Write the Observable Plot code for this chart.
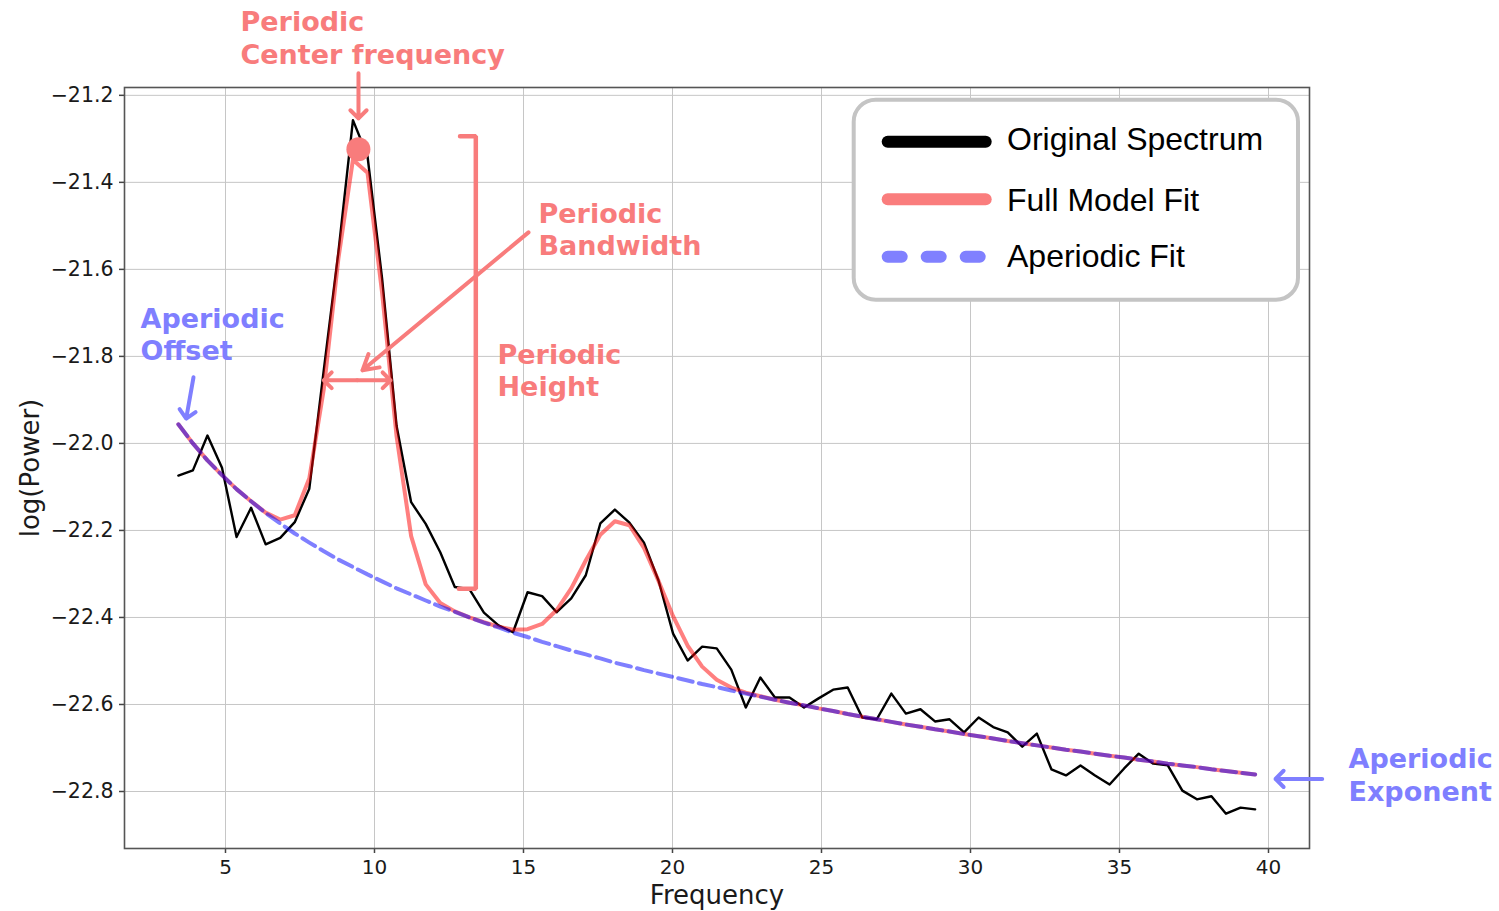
<!DOCTYPE html>
<html><head><meta charset="utf-8">
<script src="https://cdn.jsdelivr.net/npm/d3@7"></script>
<script src="https://cdn.jsdelivr.net/npm/@observablehq/plot@0.6"></script>
<style>
html,body{margin:0;padding:0;background:#fff;}
#wrap{position:relative;width:1499px;height:911px;overflow:hidden;background:#fff;}
#legend{position:absolute;left:0;top:0;pointer-events:none;}
</style></head>
<body><div id="wrap"></div>
<script>
// ---- data ----
const freqs = [
  3.418, 3.906, 4.395, 4.883, 5.371, 5.859, 6.348, 6.836, 7.324, 7.813,
  8.301, 8.789, 9.277, 9.766, 10.254, 10.742, 11.230, 11.719, 12.207, 12.695,
  13.184, 13.672, 14.160, 14.648, 15.137, 15.625, 16.113, 16.602, 17.090, 17.578,
  18.066, 18.555, 19.043, 19.531, 20.020, 20.508, 20.996, 21.484, 21.973, 22.461,
  22.949, 23.438, 23.926, 24.414, 24.902, 25.391, 25.879, 26.367, 26.855, 27.344,
  27.832, 28.320, 28.809, 29.297, 29.785, 30.273, 30.762, 31.250, 31.738, 32.227,
  32.715, 33.203, 33.691, 34.180, 34.668, 35.156, 35.645, 36.133, 36.621, 37.109,
  37.598, 38.086, 38.574, 39.063, 39.551
];
const originalSpectrum = [
  -22.074, -22.062, -21.982, -22.056, -22.215, -22.148, -22.232, -22.217, -22.181, -22.104,
  -21.830, -21.560, -21.257, -21.340, -21.620, -21.960, -22.135, -22.185, -22.250, -22.330,
  -22.335, -22.389, -22.418, -22.434, -22.342, -22.351, -22.388, -22.356, -22.303, -22.184,
  -22.152, -22.182, -22.228, -22.315, -22.437, -22.499, -22.467, -22.471, -22.520, -22.607,
  -22.538, -22.584, -22.584, -22.607, -22.586, -22.566, -22.561, -22.630, -22.634, -22.575,
  -22.621, -22.611, -22.639, -22.634, -22.664, -22.630, -22.652, -22.664, -22.697, -22.667,
  -22.749, -22.763, -22.740, -22.763, -22.784, -22.747, -22.713, -22.736, -22.740, -22.798,
  -22.818, -22.811, -22.851, -22.837, -22.841
];
const fullModelFit = [
  -21.956, -22.000, -22.039, -22.073, -22.105, -22.133, -22.159, -22.175, -22.165, -22.080,
  -21.874, -21.575, -21.348, -21.378, -21.653, -21.984, -22.213, -22.324, -22.367, -22.386,
  -22.400, -22.411, -22.421, -22.428, -22.427, -22.415, -22.383, -22.333, -22.269, -22.210,
  -22.179, -22.188, -22.240, -22.316, -22.397, -22.465, -22.513, -22.543, -22.561, -22.573,
  -22.581, -22.589, -22.596, -22.602, -22.609, -22.615, -22.622, -22.628, -22.634, -22.640,
  -22.646, -22.651, -22.657, -22.662, -22.668, -22.673, -22.678, -22.684, -22.689, -22.694,
  -22.699, -22.704, -22.708, -22.713, -22.718, -22.722, -22.727, -22.731, -22.736, -22.740,
  -22.744, -22.749, -22.753, -22.757, -22.761
];
const aperiodicFit = [
  -21.956, -22.000, -22.039, -22.073, -22.105, -22.133, -22.160, -22.184, -22.207, -22.228,
  -22.248, -22.267, -22.284, -22.301, -22.317, -22.333, -22.347, -22.361, -22.375, -22.387,
  -22.400, -22.412, -22.423, -22.435, -22.445, -22.456, -22.466, -22.476, -22.485, -22.494,
  -22.504, -22.512, -22.521, -22.529, -22.537, -22.545, -22.553, -22.560, -22.568, -22.575,
  -22.582, -22.589, -22.596, -22.602, -22.609, -22.615, -22.622, -22.628, -22.634, -22.640,
  -22.646, -22.651, -22.657, -22.662, -22.668, -22.673, -22.678, -22.684, -22.689, -22.694,
  -22.699, -22.704, -22.708, -22.713, -22.718, -22.722, -22.727, -22.731, -22.736, -22.740,
  -22.744, -22.749, -22.753, -22.757, -22.761
];
const xTicks = [5, 10, 15, 20, 25, 30, 35, 40];
const yTicks = [-21.2, -21.4, -21.6, -21.8, -22.0, -22.2, -22.4, -22.6, -22.8];
const peakCenterFreq = 9.46;
const peakPower = -21.324;
const legendLabels = ["Original Spectrum", "Full Model Fit", "Aperiodic Fit"];

// ---- annotations (data coordinates) ----
const RED = "#f87c7c", BLUE = "#7f7fff";
const annotationText = [
  {x: 5.503, y: -21.032, t: "Periodic", c: RED},
  {x: 5.503, y: -21.107, t: "Center frequency", c: RED},
  {x: 15.503, y: -21.474, t: "Periodic", c: RED},
  {x: 15.503, y: -21.547, t: "Bandwidth", c: RED},
  {x: 14.128, y: -21.798, t: "Periodic", c: RED},
  {x: 14.128, y: -21.871, t: "Height", c: RED},
  {x: 2.148, y: -21.715, t: "Aperiodic", c: BLUE},
  {x: 2.148, y: -21.789, t: "Offset", c: BLUE},
  {x: 42.685, y: -22.726, t: "Aperiodic", c: BLUE},
  {x: 42.685, y: -22.802, t: "Exponent", c: BLUE}
];
const smallArrows = [
  {x1: 9.463, y1: -21.149, x2: 9.463, y2: -21.253, c: RED},
  {x1: 9.42, y1: -21.855, x2: 8.299, y2: -21.855, c: RED},
  {x1: 9.42, y1: -21.855, x2: 10.537, y2: -21.855, c: RED},
  {x1: 3.926, y1: -21.848, x2: 3.681, y2: -21.943, c: BLUE},
  {x1: 41.802, y1: -22.771, x2: 40.235, y2: -22.771, c: BLUE}
];
const bandwidthArrow = [{x1: 15.168, y1: -21.515, x2: 9.597, y2: -21.832}];
const heightBracket = [
  {x: 12.87, y: -21.294}, {x: 13.4, y: -21.294},
  {x: 13.4, y: -22.334}, {x: 12.83, y: -22.334}
];

const rows = freqs.map((f, i) => ({f, orig: originalSpectrum[i], model: fullModelFit[i], ap: aperiodicFit[i]}));

const chart = Plot.plot({
  width: 1499,
  height: 911,
  marginLeft: 124,
  marginRight: 190,
  marginTop: 87,
  marginBottom: 63,
  style: {fontFamily: "DejaVu Sans, sans-serif", fontSize: "20px", color: "#1a1a1a", background: "#fff", overflow: "visible"},
  x: {domain: [1.611, 41.376]},
  y: {domain: [-22.931, -21.182]},
  marks: [
    Plot.gridX(xTicks, {stroke: "#c6c6c6", strokeOpacity: 1, strokeWidth: 1}),
    Plot.gridY(yTicks, {stroke: "#c6c6c6", strokeOpacity: 1, strokeWidth: 1}),
    Plot.axisX(xTicks, {tickSize: 5, tickPadding: 6, fontSize: 20, label: null, stroke: "#444", strokeWidth: 1.5, tickFormat: d => String(d)}),
    Plot.axisY(yTicks, {tickSize: 5, tickPadding: 6, fontSize: 20.5, label: null, stroke: "#444", strokeWidth: 1.5, tickFormat: d3.format(".1f")}),
    Plot.text(["Frequency"], {frameAnchor: "bottom", dy: 47, fontSize: 26, lineAnchor: "middle", textAnchor: "middle", fill: "#1a1a1a"}),
    Plot.text(["log(Power)"], {frameAnchor: "left", dx: -94, rotate: -90, fontSize: 26, lineAnchor: "middle", textAnchor: "middle", fill: "#1a1a1a"}),
    Plot.line(rows, {x: "f", y: "orig", stroke: "black", strokeWidth: 2.4}),
    Plot.line(rows, {x: "f", y: "model", stroke: "red", strokeOpacity: 0.5, strokeWidth: 4}),
    Plot.line(rows, {x: "f", y: "ap", stroke: "blue", strokeOpacity: 0.5, strokeWidth: 4, strokeDasharray: "14.8,6.4"}),
    Plot.frame({stroke: "#555", strokeWidth: 1.6}),
    Plot.line(heightBracket, {x: "x", y: "y", stroke: RED, strokeWidth: 4.5, strokeLinejoin: "miter"}),
    Plot.arrow(smallArrows, {x1: "x1", y1: "y1", x2: "x2", y2: "y2", stroke: d => d.c, strokeWidth: 4, headLength: 4.3, headAngle: 90}),
    Plot.arrow(bandwidthArrow, {x1: "x1", y1: "y1", x2: "x2", y2: "y2", stroke: RED, strokeWidth: 4, headLength: 6.5, headAngle: 60}),
    Plot.dot([{x: peakCenterFreq, y: peakPower}], {x: "x", y: "y", r: 12, fill: RED, stroke: "none"}),
    Plot.text(annotationText, {x: "x", y: "y", text: "t", fill: d => d.c, textAnchor: "start", lineAnchor: "middle",
      fontSize: 27, fontWeight: "bold", fontFamily: "DejaVu Sans, sans-serif"})
  ]
});
chart.style.scale = "none";
const wrap = document.getElementById("wrap");
wrap.appendChild(chart);

// ---- legend (drawn as an overlay inside the axes) ----
const ns = "http://www.w3.org/2000/svg";
const leg = document.createElementNS(ns, "svg");
leg.setAttribute("id", "legend");
leg.setAttribute("width", 1499);
leg.setAttribute("height", 911);
function el(name, attrs, text) {
  const e = document.createElementNS(ns, name);
  for (const k in attrs) e.setAttribute(k, attrs[k]);
  if (text) e.textContent = text;
  leg.appendChild(e);
  return e;
}
el("rect", {x: 853.7, y: 99.7, width: 444.3, height: 200, rx: 22, fill: "#fff", stroke: "#c4c4c4", "stroke-width": 4});
const swatches = [
  {stroke: "#000", dash: null},
  {stroke: "#fa7d7d", dash: null},
  {stroke: "#8080ff", dash: "14,25"}
];
const rowsY = [141.7, 199.3, 256.7];
const textY = [149.5, 211, 267];
legendLabels.forEach((lab, i) => {
  const a = {x1: 887.7, x2: swatches[i].dash ? 980 : 985.7, y1: rowsY[i], y2: rowsY[i], stroke: swatches[i].stroke, "stroke-width": 12, "stroke-linecap": "round"};
  if (swatches[i].dash) a["stroke-dasharray"] = swatches[i].dash;
  el("line", a);
  el("text", {x: 1007, y: textY[i], fill: "#000", "font-family": "Liberation Sans, Arial, sans-serif", "font-size": 32}, lab);
});
wrap.appendChild(leg);
</script>
</body></html>
